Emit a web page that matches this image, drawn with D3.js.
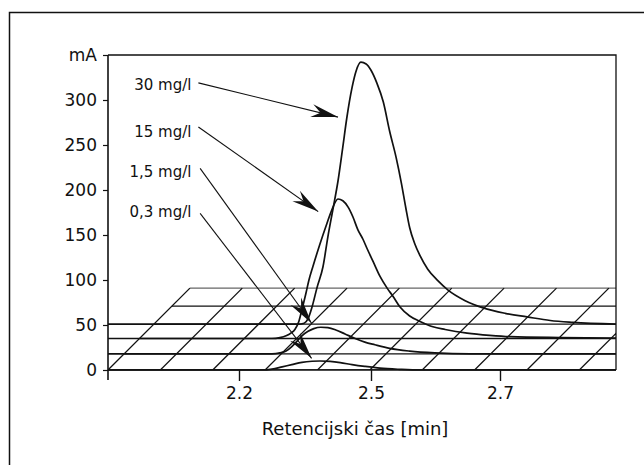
<!DOCTYPE html>
<html lang="sl">
<head>
<meta charset="UTF-8">
<title>Retencijski čas</title>
<script src="https://d3js.org/d3.v7.min.js"></script>
<style>
  body { margin: 0; background: #fff; }
  svg { display: block; background: #fff; }
  text { font-family: "DejaVu Sans", sans-serif; fill: #111; }
</style>
</head>
<body>
<svg width="644" height="465"></svg>
<script>
// axes
const yTicks = [0, 50, 100, 150, 200, 250, 300, 350];
const yTickLabels = ["0", "50", "100", "150", "200", "250", "300", "mA"];
const xTicks = [2.2, 2.5, 2.7];
const xTickLabels = ["2.2", "2.5", "2.7"];
const timeRange = [1.9, 2.88];

// chromatograms (time in min, signal in mA incl. baseline offset)
const t30 = [1.90, 2.334, 2.348, 2.357, 2.366, 2.377, 2.391, 2.402, 2.414, 2.425, 2.436, 2.445, 2.457, 2.466, 2.477, 2.489, 2.5, 2.509, 2.519, 2.529, 2.539, 2.547, 2.554, 2.56, 2.568, 2.576, 2.588, 2.604, 2.619, 2.646, 2.674, 2.708, 2.742, 2.778, 2.813, 2.88];
const v30 = [51, 51, 52, 57, 70, 91, 115, 148, 180, 210, 248, 280, 314, 332, 342, 340, 333, 319, 298, 265, 236, 208, 180, 158, 140, 127, 112, 99, 89, 77, 69, 63, 59, 55, 53, 51];

const t15 = [1.90, 2.275, 2.293, 2.307, 2.318, 2.327, 2.336, 2.343, 2.352, 2.359, 2.368, 2.384, 2.4, 2.411, 2.425, 2.436, 2.448, 2.459, 2.47, 2.482, 2.491, 2.503, 2.514, 2.525, 2.534, 2.545, 2.56, 2.576, 2.596, 2.615, 2.649, 2.684, 2.716, 2.793, 2.88];
const v15 = [35, 35, 36, 38, 41, 45, 54, 67, 85, 100, 115, 140, 163, 178, 190, 188, 181, 170, 156, 145, 135, 121, 104, 91, 82, 70, 60, 54, 48, 45, 41, 38.5, 37, 36, 35.5];

const t1_5 = [1.90, 2.275, 2.293, 2.307, 2.32, 2.332, 2.343, 2.357, 2.37, 2.386, 2.402, 2.42, 2.441, 2.464, 2.486, 2.506, 2.529, 2.56, 2.599, 2.653, 2.88];
const v1_5 = [18, 18, 19, 21, 26, 32, 38, 43, 46, 47.5, 47, 44.5, 40, 35, 31, 28, 24, 21, 19, 18, 18];

const t0_3 = [1.90, 2.252, 2.275, 2.298, 2.32, 2.343, 2.366, 2.384, 2.407, 2.43, 2.457, 2.486, 2.514, 2.545, 2.576, 2.88];
const v0_3 = [0, 0, 1, 3.5, 6, 8.5, 9.7, 10, 9.5, 8.2, 6, 4, 2, 0.7, 0, 0];

// labels and arrows: label anchor, arrow start, arrow tip (time, mA)
const labels = ["30 mg/l", "15 mg/l", "1,5 mg/l", "0,3 mg/l"];
const labelPos = [[2.091, 311], [2.091, 259], [2.091, 214], [2.091, 170]];
const arrowFrom = [[2.107, 319], [2.107, 270], [2.111, 224], [2.111, 174]];
const arrowTo = [[2.425, 281], [2.380, 176], [2.365, 52], [2.365, 13]];

// pseudo-3D floor
const floorRows = [0, 18, 35, 51, 71, 91];
const floorCols = d3.range(10);

const svg = d3.select("svg");
const margin = { top: 55, right: 28, bottom: 95, left: 108 };
const W = 644, H = 465;
const L = margin.left, R = W - margin.right, T = margin.top, B = H - margin.bottom;

const x = d3.scaleLinear()
  .domain([timeRange[0], ...xTicks, timeRange[1]])
  .range([0, 131, 263, 392, R - L].map(d => L + d));
const y = d3.scaleLinear().domain([0, 350]).range([B, T]);

// outer frame
svg.append("rect")
  .attr("x", 9.5).attr("y", 12.5).attr("width", 700).attr("height", 500)
  .attr("fill", "none").attr("stroke", "#111").attr("stroke-width", 1.5);

svg.append("defs").append("clipPath").attr("id", "plot")
  .append("rect").attr("x", L).attr("y", T).attr("width", R - L).attr("height", B - T);

// floor grid
const depth = v => y(0) - y(v);
const back = d3.max(floorRows);
const floorX = d3.scaleLinear().domain([0, 9.7]).range([L, R]);
const grid = svg.append("g").attr("clip-path", "url(#plot)")
  .attr("stroke", "#111").attr("stroke-width", 1.3);

grid.selectAll("line.row").data(floorRows).join("line")
  .attr("class", "row")
  .attr("x1", d => L + depth(d)).attr("x2", R)
  .attr("y1", d => y(d)).attr("y2", d => y(d))
  .attr("stroke", d => d > 80 ? "#666" : "#111");

grid.selectAll("line.col").data(floorCols).join("line")
  .attr("class", "col")
  .attr("x1", d => floorX(d)).attr("y1", y(0))
  .attr("x2", d => floorX(d) + depth(back)).attr("y2", y(back));

// plot box and axes
svg.append("path")
  .attr("d", `M${L},${T}H${R}V${B}`)
  .attr("fill", "none").attr("stroke", "#111").attr("stroke-width", 1.3);

const yAxis = svg.append("g").attr("transform", `translate(${L},0)`)
  .call(d3.axisLeft(y).tickValues(yTicks).tickSize(5).tickPadding(6)
    .tickFormat((d, i) => yTickLabels[i]));
yAxis.select(".domain").remove();
yAxis.append("line").attr("x1", 0).attr("x2", 0).attr("y1", T).attr("y2", B + 10)
  .attr("stroke", "#111").attr("stroke-width", 1.6);
yAxis.selectAll("text").attr("font-size", 17).attr("font-family", "DejaVu Sans").attr("fill", "#111");
yAxis.selectAll(".tick line").attr("stroke", "#111").attr("stroke-width", 1.2);

const xAxis = svg.append("g").attr("transform", `translate(0,${B})`)
  .call(d3.axisBottom(x).tickValues(xTicks).tickSize(11).tickPadding(6)
    .tickFormat((d, i) => xTickLabels[i]));
xAxis.select(".domain").attr("d", `M${L},0H${R}`).attr("stroke", "#111").attr("stroke-width", 1.6);
xAxis.selectAll("text").attr("font-size", 17).attr("font-family", "DejaVu Sans").attr("fill", "#111");
xAxis.selectAll(".tick line").attr("stroke", "#111").attr("stroke-width", 1.4);

svg.append("text")
  .attr("x", 355).attr("y", 435)
  .attr("text-anchor", "middle").attr("font-size", 18)
  .text("Retencijski čas [min]");

// curves
const line = d3.line().x(d => x(d[0])).y(d => y(d[1])).curve(d3.curveMonotoneX);
const curves = [d3.zip(t0_3, v0_3), d3.zip(t1_5, v1_5), d3.zip(t15, v15), d3.zip(t30, v30)];
svg.append("g").selectAll("path").data(curves).join("path")
  .attr("d", line)
  .attr("fill", "none").attr("stroke", "#111").attr("stroke-width", 1.7);

// arrows
svg.select("defs").append("marker")
  .attr("id", "head").attr("markerUnits", "userSpaceOnUse")
  .attr("viewBox", "-30 -8 32 16").attr("refX", 0).attr("refY", 0)
  .attr("markerWidth", 32).attr("markerHeight", 16).attr("orient", "auto")
  .append("path").attr("d", "M0,0L-27,-6.5L-18,0L-27,6.5Z").attr("fill", "#111");

svg.append("g").selectAll("line").data(labels).join("line")
  .attr("x1", (d, i) => x(arrowFrom[i][0])).attr("y1", (d, i) => y(arrowFrom[i][1]))
  .attr("x2", (d, i) => x(arrowTo[i][0])).attr("y2", (d, i) => y(arrowTo[i][1]))
  .attr("stroke", "#111").attr("stroke-width", 1.1)
  .attr("marker-end", "url(#head)");

svg.append("g").selectAll("text").data(labels).join("text")
  .attr("x", (d, i) => x(labelPos[i][0])).attr("y", (d, i) => y(labelPos[i][1]))
  .attr("text-anchor", "end").attr("font-size", 15)
  .text(d => d);
</script>
</body>
</html>
